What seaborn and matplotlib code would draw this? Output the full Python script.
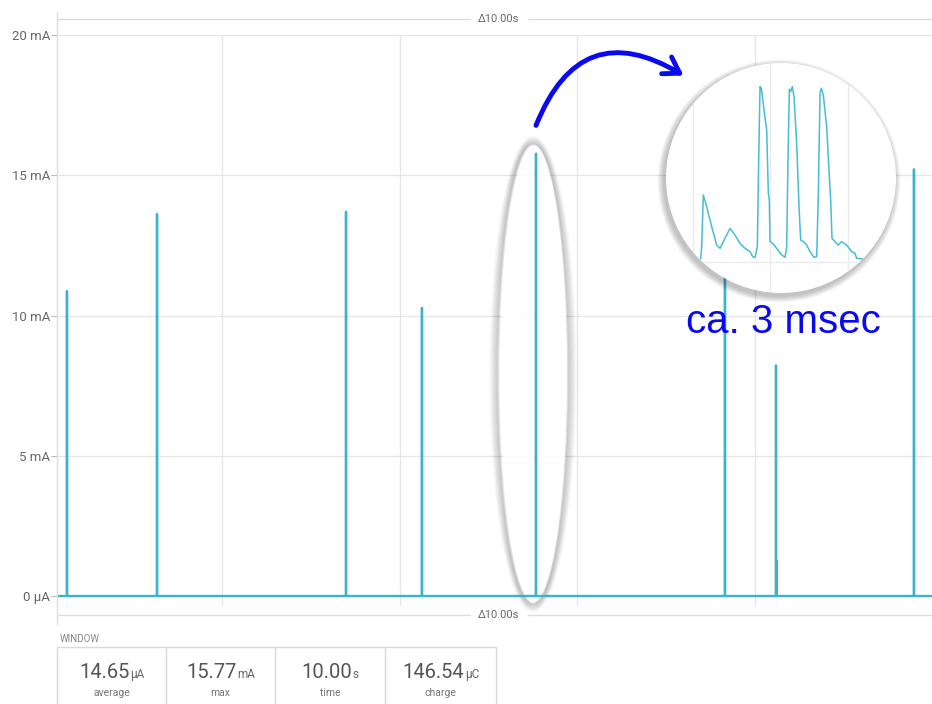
import numpy as np
import pandas as pd
import matplotlib
matplotlib.use("Agg")
import matplotlib.pyplot as plt
import matplotlib.transforms as mtrans
from matplotlib.patches import Ellipse, Circle, Rectangle, FancyArrowPatch
from matplotlib.lines import Line2D
import seaborn as sns

# ---------------- data ----------------
spike_times_s = [0.114, 1.143, 3.303, 4.171, 5.474, 7.634, 8.217, 8.226, 9.794]
spike_peaks_mA = [10.87, 13.62, 13.70, 10.27, 15.77, 14.0, 8.22, 1.25, 15.21]
window_s = 10.0

ytick_vals = [0, 5, 10, 15, 20]
ytick_labels = ["0 μA", "5 mA", "10 mA", "15 mA", "20 mA"]
xgrid_s = [1.886, 3.92, 5.943, 7.977]

# zoomed waveform (inset), time in ms, current in mA
zoom_t_ms = [0.013, 0.032, 0.064, 0.128, 0.224, 0.321, 0.385, 0.449, 0.577, 0.673,
             0.769, 0.865, 0.962, 1.013, 1.058, 1.103, 1.128, 1.154, 1.179, 1.231,
             1.282, 1.314, 1.333, 1.346, 1.397, 1.474, 1.571, 1.635, 1.667, 1.692,
             1.718, 1.744, 1.776, 1.808, 1.859, 1.904, 1.936, 1.987, 2.051, 2.115,
             2.192, 2.244, 2.276, 2.308, 2.333, 2.372, 2.436, 2.487, 2.513, 2.538,
             2.596, 2.660, 2.724, 2.821, 2.917, 2.981, 3.013, 3.141]
zoom_I_mA = [0.0, 1.13, 5.87, 4.80, 2.97, 1.28, 0.98, 1.59, 2.81, 2.20,
             1.44, 0.98, 0.67, 0.21, 0.15, 1.13, 9.08, 15.81, 15.66, 13.67,
             11.83, 6.02, 5.41, 1.59, 1.44, 0.98, 0.37, 0.15, 1.13, 9.08,
             15.57, 15.35, 15.81, 14.89, 10.61, 4.80, 1.74, 1.59, 1.28, 0.67,
             0.15, 0.21, 6.02, 15.20, 15.66, 15.0, 12.14, 7.55, 5.41, 1.90,
             1.59, 1.28, 1.59, 1.28, 0.67, 0.52, 0.06, 0.0]
zoom_grid_ms = [-0.135, 1.35, 2.85]

stat_values = ["14.65", "15.77", "10.00", "146.54"]
stat_units = ["μA", "mA", "s", "μC"]
stat_labels = ["average", "max", "time", "charge"]
delta_label = "Δ10.00s"
note_text = "ca. 3 msec"

TEAL = "#3db3c9"
TEAL2 = "#45bdd6"
BLUE = "#0a0af0"

# ---------------- figure ----------------
sns.set_theme(style="white")
plt.rcParams["font.family"] = ["Roboto", "DejaVu Sans"]

W, H = 932, 704
fig = plt.figure(figsize=(W / 100, H / 100), dpi=100)
fig.patch.set_facecolor("white")
# pixel (from top-left) -> figure transform
T = mtrans.Affine2D().scale(1 / W, -1 / H).translate(0, 1) + fig.transFigure

# build trace
tr_t, tr_I = [0.0], [0.0]
for t, p in zip(spike_times_s, spike_peaks_mA):
    tr_t += [t - 0.0008, t, t + 0.0008]
    tr_I += [0.0, p, 0.0]
tr_t.append(window_s)
tr_I.append(0.0)
df = pd.DataFrame({"t": tr_t, "I": tr_I})

ax = fig.add_axes([57 / W, (H - 606) / H, 875 / W, 571 / H])
ax.set_facecolor("none")
sns.lineplot(data=df, x="t", y="I", sort=False, estimator=None, color=TEAL,
             lw=1.7, ax=ax, zorder=3)
ax.set_xlim(0, window_s)
ax.set_ylim(-0.3565, 20)
ax.set_yticks(ytick_vals)
ax.set_yticklabels(ytick_labels)
ax.set_xticks(xgrid_s)
ax.tick_params(axis="x", length=0, labelbottom=False)
ax.tick_params(axis="y", left=True, length=4, width=0.8, color="#bbbbbb",
               labelcolor="#666666", labelsize=9.5, pad=1)
ax.set_axisbelow(True)
ax.grid(True, color="#e6e6e6", lw=1)
for s in ax.spines.values():
    s.set_visible(False)
ax.set_xlabel("")
ax.set_ylabel("")

# ellipse highlight
ecx, ecy, ew, eh = 534, 373, 78, 467
for k in range(9):
    ring = Ellipse((ecx - 1, ecy + 1), ew + 2 * k - 8, eh + 2 * k - 8, fc="none",
                   ec="black", lw=2, alpha=0.085 * (9 - k) / 9, transform=T,
                   zorder=1.4, clip_on=False)
    ax.add_patch(ring)
ax.add_patch(Ellipse((ecx, ecy), ew - 12, eh - 12, fc="white", ec="none", alpha=0.85,
                     transform=T, zorder=1.5, clip_on=False))

# figure frame lines
fig.add_artist(Line2D([57, 57], [12, 624], transform=T, color="#dddddd", lw=1))
for yy in (19, 615):
    fig.add_artist(Line2D([57, 470], [yy, yy], transform=T, color="#dddddd", lw=1))
    fig.add_artist(Line2D([528, 932], [yy, yy], transform=T, color="#dddddd", lw=1))
    fig.text(499, yy, delta_label, transform=T, ha="center", va="center",
             fontsize=8, color="#666666")

# inset circle
ccx, ccy, cr = 781, 178, 115
ax_in = fig.add_axes([666 / W, (H - 293) / H, 230 / W, 230 / H])
for k in range(8, 0, -1):
    ax_in.add_patch(Circle((ccx - 2, ccy + 3), cr + k * 0.8, fc="black", ec="none",
                           alpha=0.03, transform=T, clip_on=False))
circ = Circle((ccx, ccy), cr, fc="white", ec="none", transform=T, clip_on=False)
ax_in.add_patch(circ)
dfz = pd.DataFrame({"t": zoom_t_ms, "I": zoom_I_mA})
for g in zoom_grid_ms:
    gl = ax_in.axvline(g, color="#ebebeb", lw=1)
    gl.set_clip_path(circ)
hl = ax_in.axhline(-0.25, color="#ebebeb", lw=1)
hl.set_clip_path(circ)
sns.lineplot(data=dfz, x="t", y="I", sort=False, estimator=None, color=TEAL2,
             lw=1.1, ax=ax_in)
for ln in ax_in.lines:
    ln.set_clip_path(circ)
ax_in.set_xlim(-0.654, 3.769)
ax_in.set_ylim(-3.12, 17.98)
ax_in.axis("off")

# arrow + note
arrow = FancyArrowPatch(posA=(535, 128), posB=(686, 77), transform=T,
                        connectionstyle="arc3,rad=-0.6",
                        arrowstyle="->,head_length=0.55,head_width=0.35",
                        mutation_scale=20, lw=3.5, color=BLUE)
fig.add_artist(arrow)
fig.text(686, 333, note_text, transform=T, ha="left", va="baseline", fontsize=29,
         color=BLUE, family=["Liberation Sans", "DejaVu Sans"])

# stats panel
fig.text(60, 642, "WINDOW", transform=T, ha="left", va="baseline", fontsize=7,
         color="#888888")
xs = [57, 166, 275, 385, 496]
fig.add_artist(Rectangle((57, 647), 439, 60, fill=False, ec="#d9d9d9", lw=1,
                         transform=T, clip_on=False))
for xv in xs[1:-1]:
    fig.add_artist(Line2D([xv, xv], [647, 704], transform=T, color="#d9d9d9", lw=1))
renderer = fig.canvas.get_renderer()
for i, (v, u, lab) in enumerate(zip(stat_values, stat_units, stat_labels)):
    cx = (xs[i] + xs[i + 1]) / 2
    t1 = fig.text(0, 678, v, transform=T, ha="left", va="baseline", fontsize=14.5,
                  color="#555555")
    t2 = fig.text(0, 678, u, transform=T, ha="left", va="baseline", fontsize=8.5,
                  color="#666666")
    w1 = t1.get_window_extent(renderer).width
    w2 = t2.get_window_extent(renderer).width
    x0 = cx - (w1 + w2) / 2
    t1.set_position((x0, 678))
    t2.set_position((x0 + w1 + 0.5, 678))
    fig.text(cx, 693, lab, transform=T, ha="center", va="center", fontsize=7.5,
             color="#777777")

fig.savefig("out.png", dpi=100)
